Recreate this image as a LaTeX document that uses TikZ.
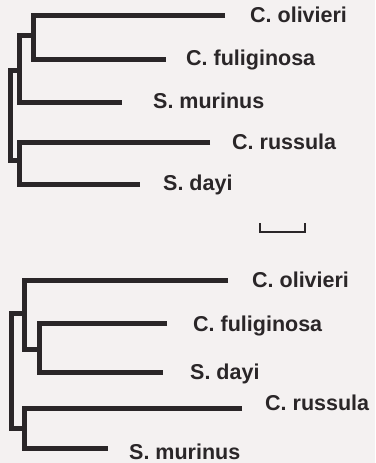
\documentclass[tikz,border=0pt]{standalone}
\usepackage{fontspec}
\setmainfont{Liberation Sans}
\definecolor{ink}{RGB}{42,38,40}
\definecolor{paper}{RGB}{244,241,241}

\begin{document}
\begin{tikzpicture}[x=1pt,y=-1pt]
  \tikzstyle{branch}=[line width=5pt,draw=ink,line join=miter]
  \tikzstyle{scalebar}=[line width=2.2pt,draw=ink]
  \tikzstyle{taxon}=[anchor=west,inner sep=0pt,text height=14.5pt,text depth=0pt,text=ink,font=\fontsize{21.5}{24}\selectfont\bfseries]
  \fill[paper] (0,0) rectangle (375,463);
  \useasboundingbox (0,0) rectangle (375,463);
  % upper tree
  \coordinate (ol1) at (225,15);
  \coordinate (fu1) at (166,59);
  \coordinate (mu1) at (122,102);
  \coordinate (ru1) at (210,142);
  \coordinate (da1) at (140,184);
  \coordinate (n1) at (33,35);
  \coordinate (n2) at (19,70);
  \coordinate (n3) at (19,160);
  \coordinate (r1) at (10,115);
  \draw[branch] (ol1) -| (n1) |- (fu1);
  \draw[branch] (n1) -| (n2) |- (mu1);
  \draw[branch] (ru1) -| (n3) |- (da1);
  \draw[branch] (n2) -| (r1) |- (n3);
  \node[taxon] (olivieri1) at (250,15) {C. olivieri};
  \node[taxon] (fuliginosa1) at (186,58) {C. fuliginosa};
  \node[taxon] (murinus1) at (153,101) {S. murinus};
  \node[taxon] (russula1) at (232,142) {C. russula};
  \node[taxon] (dayi1) at (163,183) {S. dayi};
  % scale
  \coordinate (sbl) at (260,232);
  \coordinate (sbr) at (305,232);
  \draw[scalebar] (sbl) ++(0,-9) -- (sbl) -- (sbr) -- ++(0,-9);
  % lower tree
  \coordinate (ol2) at (228,280);
  \coordinate (fu2) at (167,323);
  \coordinate (da2) at (163,372);
  \coordinate (ru2) at (242,408);
  \coordinate (mu2) at (108,448);
  \coordinate (n4) at (24,313);
  \coordinate (n5) at (39,349);
  \coordinate (n6) at (24,428);
  \coordinate (r2) at (11,370);
  \draw[branch] (ol2) -| (n4) |- (n5);
  \draw[branch] (fu2) -| (n5) |- (da2);
  \draw[branch] (ru2) -| (n6) |- (mu2);
  \draw[branch] (n4) -| (r2) |- (n6);
  \node[taxon] (olivieri2) at (252,280) {C. olivieri};
  \node[taxon] (fuliginosa2) at (193,324) {C. fuliginosa};
  \node[taxon] (dayi2) at (190,372) {S. dayi};
  \node[taxon] (russula2) at (265,403) {C. russula};
  \node[taxon] (murinus2) at (129,452) {S. murinus};
\end{tikzpicture}
\end{document}
